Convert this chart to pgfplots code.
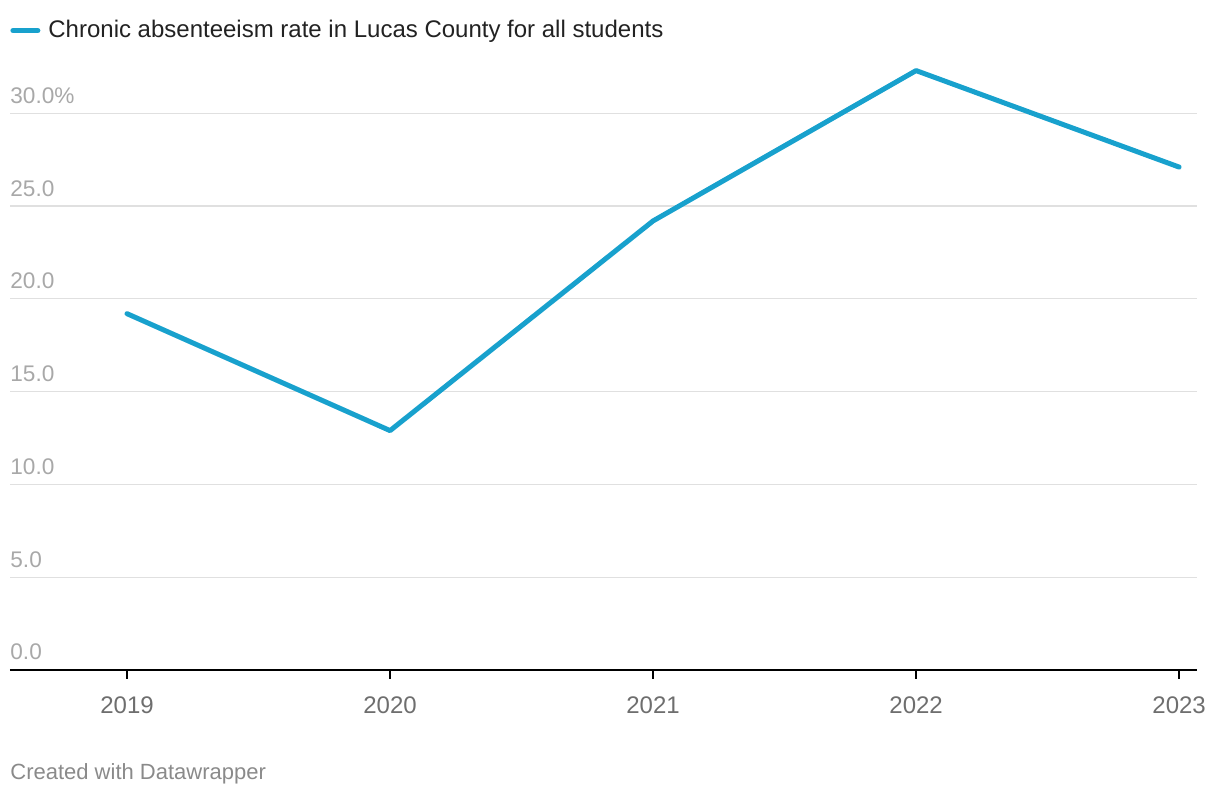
\documentclass[border=0pt]{standalone}
\usepackage{pgfplots}
\pgfplotsset{compat=1.18}
\usepackage{fontspec}
\setmainfont{Liberation Sans}
\definecolor{lineblue}{HTML}{18A1CD}
\definecolor{gridgray}{HTML}{E0E0E0}
\definecolor{ylabgray}{HTML}{A8A8A8}
\definecolor{xlabgray}{HTML}{6E6E6E}
\definecolor{footgray}{HTML}{8A8A8A}
\definecolor{legtext}{HTML}{222222}
\begin{document}
\begin{tikzpicture}
\path[use as bounding box] (-5pt,-63pt) rectangle (605pt,335pt);
\begin{axis}[
  scale only axis,
  width=593.5pt, height=306.2pt,
  xmin=2018.555, xmax=2023.068,
  ymin=0, ymax=33,
  axis x line*=bottom,
  axis y line*=left,
  y axis line style={draw=none},
  x axis line style={black, line width=1pt},
  xtick={2019,2020,2021,2022,2023},
  xticklabels={2019,2020,2021,2022,2023},
  ytick={0,5,10,15,20,25,30},
  yticklabels={0.0,5.0,10.0,15.0,20.0,25.0,30.0\%},
  tick align=outside,
  major tick length=4.5pt,
  xtick style={black, line width=1pt},
  ytick style={draw=none},
  ymajorgrids,
  y grid style={gridgray, line width=0.6pt},
  xticklabel style={font=\fontsize{12}{14}\selectfont, text=xlabgray, anchor=base, inner sep=0pt, yshift=-17.5pt},
  yticklabel style={font=\fontsize{11.3}{13}\selectfont, text=ylabgray, anchor=base west, inner sep=0pt, xshift=4.5pt, yshift=5pt},
  /pgf/number format/assume math mode=true,
  legend style={draw=none, fill=none, at={(axis description cs:0,1)}, anchor=west, yshift=13.5pt,
    inner xsep=0pt, inner ysep=0pt, font=\fontsize{12}{14}\selectfont, text=legtext,
    nodes={inner sep=0pt}, column sep=4pt},
  legend cell align=left,
  legend image code/.code={\draw[line width=2.6pt, line cap=round, lineblue] (1.3pt,0pt) -- (13.7pt,0pt);},
  clip=false,
]
\addplot[lineblue, line width=2.5pt, line join=round, line cap=round] coordinates {
  (2019,19.2) (2020,12.9) (2021,24.2) (2022,32.3) (2023,27.1)
};
\addlegendentry{Chronic absenteeism rate in Lucas County for all students}
\node[anchor=base west, inner sep=0pt, font=\fontsize{11}{13}\selectfont, text=footgray] at (rel axis cs:0,0) [yshift=-55pt] {Created with Datawrapper};
\end{axis}
\end{tikzpicture}
\end{document}
